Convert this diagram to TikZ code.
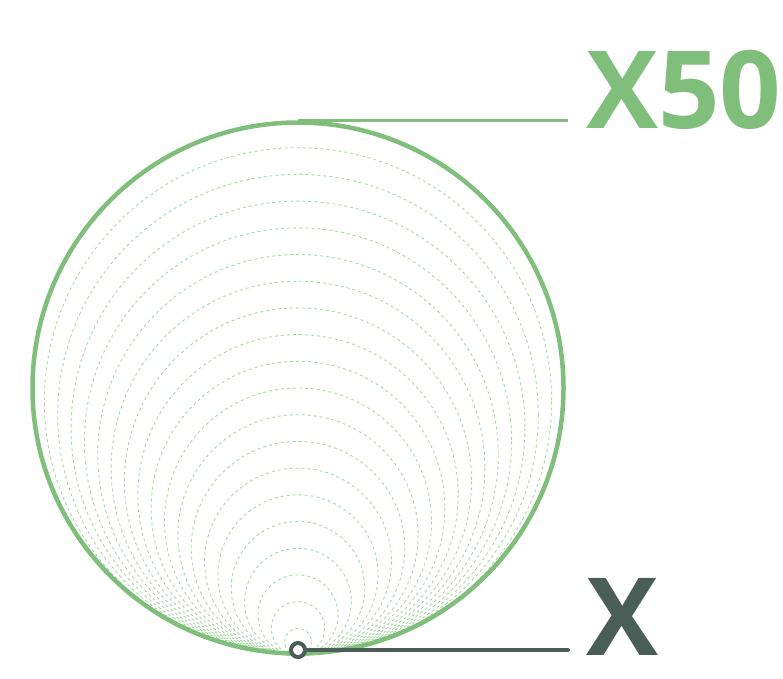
\documentclass[tikz,border=0pt]{standalone}
\usepackage{fontspec}
\setmainfont{Open Sans}
\usepackage{xcolor}
\usetikzlibrary{positioning}

\definecolor{leafgreen}{HTML}{7FBF7B}
\definecolor{palegreen}{HTML}{A8D8A4}
\definecolor{slate}{HTML}{4A5E57}

\begin{document}
\begin{tikzpicture}[
  x=1pt, y=-1pt,
  ring/.style={draw=palegreen, line width=0.9pt, dash pattern=on 3pt off 3pt},
  label/.style={font=\fontsize{108}{108}\selectfont\bfseries, inner sep=0pt, anchor=base west}
]
  \useasboundingbox (0,0) rectangle (783,678);

  % nested rings, all touching the bottom point
  \foreach \k in {1,...,19}
    \draw[ring] (298,{655-13.35*\k}) circle ({13.35*\k});

  \node[circle, draw=leafgreen, line width=4.5pt, minimum size=531pt, inner sep=0pt] (big) at (298,388) {};
  \node[circle, draw=slate, line width=4pt, fill=white, minimum size=14pt, inner sep=0pt] (small) at (298,650) {};

  \node[label, text=leafgreen] (x50) at (586,128) {X50};
  \node[label, text=slate] (x1) at (586,655) {X};

  \coordinate (e50) at (568,121);
  \coordinate (e1) at (568,650);

  \draw[leafgreen, line width=3pt] (big.north) -- (big.north -| e50);
  \draw[slate, line width=4pt, line cap=round] (small.east) -- (small.east -| e1);
\end{tikzpicture}
\end{document}
